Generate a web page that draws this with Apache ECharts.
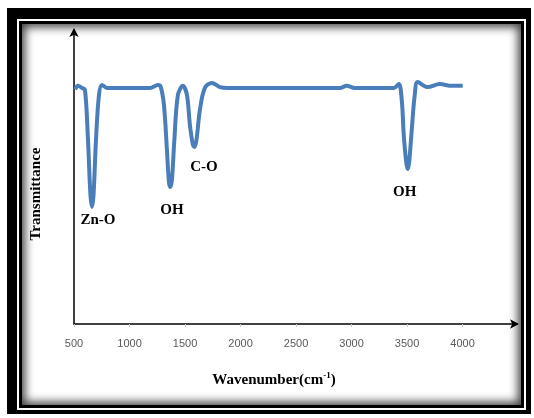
<!DOCTYPE html>
<html>
<head>
<meta charset="utf-8">
<script src="https://cdn.jsdelivr.net/npm/echarts@6/dist/echarts.min.js"></script>
<style>
  html, body { margin: 0; padding: 0; background: #fff; }
  #wrap { position: relative; width: 534px; height: 418px; overflow: hidden; background: #fff; }
  .b1 { position: absolute; left: 7px; top: 8px; width: 524px; height: 406px; background: #000; }
  .b2 { position: absolute; left: 17px; top: 19px; width: 509px; height: 391px; background: #fff; }
  .b3 { position: absolute; left: 19px; top: 21px; width: 505px; height: 387px; background: #000; }
  .b4 { position: absolute; left: 22px; top: 24px; width: 499px; height: 381px; background: #fff;
        box-shadow: inset 0 0 10px 3px rgba(0,0,0,0.75); }
  #chart { position: absolute; left: 0; top: 0; width: 534px; height: 418px; }
</style>
</head>
<body>
<div id="wrap">
  <div class="b1"></div><div class="b2"></div><div class="b3"></div><div class="b4"></div>
  <div id="chart"></div>
</div>
<script>
// Wavenumber (cm-1) and transmittance (arbitrary units)
const wavenumber = [510, 536, 572, 599, 626, 648, 662, 676, 698, 725, 752, 797, 900, 1050, 1184,
  1256, 1280, 1310, 1337, 1355, 1368, 1382, 1404, 1436, 1481, 1517, 1544, 1571, 1585, 1603, 1634,
  1679, 1742, 1814, 1886, 2100, 2400, 2700, 2894, 2957, 3029, 3200, 3380, 3425, 3452, 3470, 3492,
  3506, 3519, 3542, 3569, 3596, 3686, 3794, 3902, 4001];
const transmittance = [79.8, 81.0, 80.3, 79.6, 62.6, 43.9, 39.8, 43.9, 62.6, 77.9, 81.3, 80.3, 80.3, 80.3, 80.3,
  81.3, 80.8, 74.5, 59.2, 48.3, 46.6, 49.0, 62.6, 77.9, 81.0, 77.9, 67.7, 60.9, 60.2, 62.6, 72.8,
  80.3, 82.0, 80.6, 80.3, 80.3, 80.3, 80.3, 80.3, 81.0, 80.3, 80.3, 80.3, 81.6, 76.2, 64.3, 55.1,
  52.7, 55.1, 66.0, 77.9, 82.3, 80.6, 81.6, 81.0, 81.0];
const xTicks = [500, 1000, 1500, 2000, 2500, 3000, 3500, 4000];
const bandLabels = ['Zn-O', 'OH', 'C-O', 'OH'];
const bandLabelWn = [716, 1382, 1670, 3479];
const bandLabelT = [35.4, 38.8, 53.4, 44.9];

const chart = echarts.init(document.getElementById('chart'), null, { renderer: 'canvas' });
const serif = '"Liberation Serif", "Times New Roman", serif';
chart.setOption({
  backgroundColor: 'transparent',
  animation: false,
  grid: { left: 74, right: 17, top: 30, bottom: 94 },
  xAxis: {
    type: 'value', min: 500, max: 4490, interval: 500,
    axisLine: { show: true, symbol: ['none', 'arrow'], symbolSize: [7, 9], symbolOffset: [0, 2],
      lineStyle: { color: '#000', width: 1.5 } },
    axisTick: { show: true, length: 3, lineStyle: { color: '#c8c8c8' } },
    axisLabel: { color: '#595959', fontSize: 11, margin: 14, fontFamily: '"Liberation Sans", Arial, sans-serif',
      showMaxLabel: false,
      formatter: v => xTicks.includes(v) ? String(v) : '' },
    splitLine: { show: false }
  },
  yAxis: {
    type: 'value', min: 0, max: 100,
    axisLine: { show: true, symbol: ['none', 'arrow'], symbolSize: [7, 9], symbolOffset: [0, 2],
      lineStyle: { color: '#000', width: 1.5 } },
    axisTick: { show: false }, axisLabel: { show: false }, splitLine: { show: false }
  },
  graphic: [
    { type: 'text', x: 274, y: 380, style: {
        rich: { b: { fontFamily: serif, fontWeight: 'bold', fontSize: 15, fill: '#000' },
                s: { fontFamily: serif, fontWeight: 'bold', fontSize: 9, fill: '#000', padding: [0, 0, 8, 0] } },
        text: '{b|Wavenumber(cm}{s|-1}{b|)}', align: 'center', verticalAlign: 'middle' } },
    { type: 'text', x: 36, y: 194, rotation: Math.PI / 2, style: {
        text: 'Transmittance', fontFamily: serif, fontWeight: 'bold', fontSize: 15, fill: '#000',
        align: 'center', verticalAlign: 'middle' } }
  ],
  series: [{
    type: 'line',
    data: wavenumber.map((w, i) => [w, transmittance[i]]),
    smooth: 0.35,
    showSymbol: false,
    lineStyle: { color: '#4a7ebb', width: 4 },
    itemStyle: { color: '#4a7ebb' },
    markPoint: {
      symbol: 'circle', symbolSize: 0,
      label: { show: true, position: 'inside', color: '#000', fontFamily: serif, fontWeight: 'bold', fontSize: 15,
        formatter: p => p.name },
      data: bandLabels.map((n, i) => ({ name: n, coord: [bandLabelWn[i], bandLabelT[i]] }))
    }
  }]
});
</script>
</body>
</html>
